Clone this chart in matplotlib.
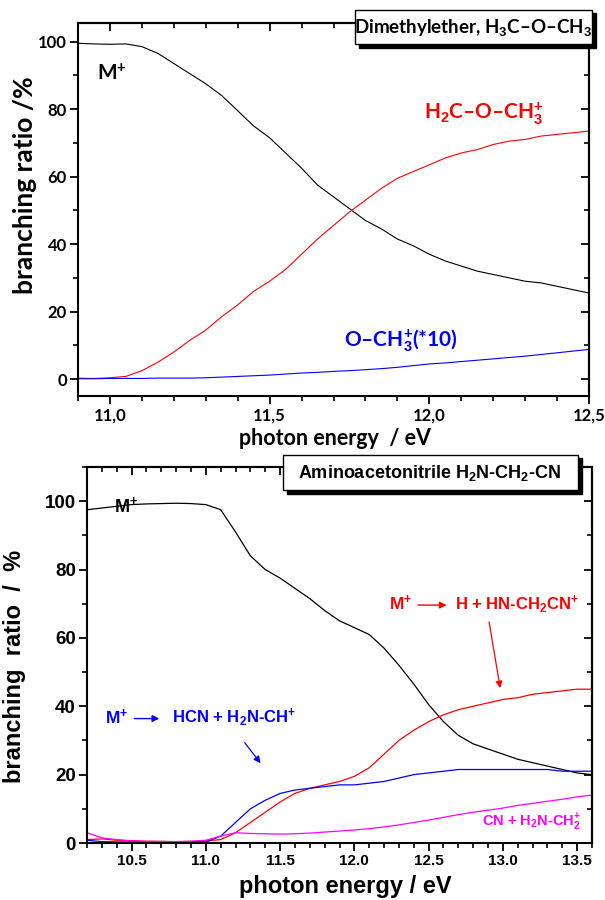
import matplotlib
matplotlib.use("Agg")
import matplotlib.pyplot as plt
from matplotlib.ticker import MultipleLocator, FuncFormatter
from matplotlib.patches import Rectangle

plt.rcParams['mathtext.fontset'] = 'custom'
plt.rcParams['mathtext.rm'] = 'Liberation Sans:bold'
plt.rcParams['mathtext.bf'] = 'Liberation Sans:bold'
plt.rcParams['mathtext.it'] = 'Liberation Sans:bold'
plt.rcParams['mathtext.sf'] = 'Liberation Sans:bold'

# ---------------- data: Dimethylether (top) ----------------
e_top = [10.90, 10.95, 11.00, 11.05, 11.10, 11.15, 11.20, 11.25, 11.30, 11.35, 11.40,
         11.45, 11.50, 11.55, 11.60, 11.65, 11.70, 11.75, 11.80, 11.85, 11.90, 11.95,
         12.00, 12.05, 12.10, 12.15, 12.20, 12.25, 12.30, 12.35, 12.40, 12.45, 12.50]
dme_parent = [99.5, 99.3, 99.2, 99.3, 98.5, 96.5, 93.5, 90.5, 87.5, 84.0, 79.5,
              75.0, 71.5, 67.0, 62.5, 57.5, 54.0, 50.5, 47.0, 44.5, 41.5, 39.5,
              37.0, 35.0, 33.5, 32.0, 31.0, 30.0, 29.0, 28.5, 27.5, 26.5, 25.5]
dme_hloss = [0.3, 0.2, 0.4, 0.8, 2.5, 5.0, 8.0, 11.5, 14.5, 18.5, 22.0,
             26.0, 29.0, 32.5, 37.0, 41.5, 45.5, 49.5, 53.0, 56.5, 59.5, 61.5,
             63.5, 65.5, 67.0, 68.0, 69.5, 70.5, 71.0, 72.0, 72.5, 73.0, 73.5]
dme_och3 = [0.1, 0.1, 0.2, 0.2, 0.2, 0.3, 0.3, 0.3, 0.4, 0.6, 0.8,
            1.0, 1.2, 1.5, 1.8, 2.0, 2.3, 2.5, 2.8, 3.1, 3.5, 4.0,
            4.5, 4.8, 5.2, 5.6, 6.0, 6.4, 6.8, 7.3, 7.8, 8.3, 8.8]

# ---------------- data: Aminoacetonitrile (bottom) ----------------
e_bot = [10.2, 10.3, 10.4, 10.5, 10.6, 10.7, 10.8, 10.9, 11.0, 11.1, 11.2, 11.3,
         11.4, 11.5, 11.6, 11.7, 11.8, 11.9, 12.0, 12.1, 12.2, 12.3, 12.4, 12.5,
         12.6, 12.7, 12.8, 12.9, 13.0, 13.1, 13.2, 13.3, 13.4, 13.5, 13.6]
aan_parent = [97.5, 98.0, 98.5, 99.0, 99.2, 99.3, 99.4, 99.3, 99.0, 97.5, 91.0, 84.0,
              80.0, 77.5, 74.5, 71.5, 68.0, 65.0, 63.0, 61.0, 57.0, 52.0, 46.5, 40.5,
              35.5, 31.5, 29.0, 27.5, 26.0, 24.5, 23.5, 22.5, 21.5, 20.5, 20.0]
aan_hloss = [1.0, 1.2, 0.8, 0.7, 0.5, 0.5, 0.4, 0.5, 0.6, 1.0, 3.0, 6.0,
             9.0, 12.0, 14.5, 16.0, 17.0, 18.0, 19.5, 22.0, 26.0, 30.0, 33.0, 35.5,
             37.5, 39.0, 40.0, 41.0, 42.0, 42.5, 43.5, 44.0, 44.5, 45.0, 45.0]
aan_hcnloss = [0.8, 0.4, 0.3, 0.3, 0.3, 0.3, 0.3, 0.3, 0.3, 2.0, 6.0, 10.0,
               12.5, 14.5, 15.5, 16.0, 16.5, 17.0, 17.0, 17.5, 18.0, 19.0, 20.0, 20.5,
               21.0, 21.5, 21.5, 21.5, 21.5, 21.5, 21.5, 21.5, 21.0, 21.0, 21.0]
aan_cnloss = [3.0, 1.5, 1.0, 0.6, 0.5, 0.4, 0.4, 0.5, 0.8, 2.0, 3.0, 2.8,
              2.7, 2.6, 2.7, 2.9, 3.2, 3.5, 3.8, 4.2, 4.7, 5.3, 6.0, 6.7,
              7.5, 8.3, 9.0, 9.6, 10.2, 11.0, 11.6, 12.2, 12.8, 13.5, 14.0]

W, H = 605, 900
fig = plt.figure(figsize=(W / 100, H / 100), dpi=100)

TOPF = ['Lato', 'DejaVu Sans']
BOTF = ['Liberation Sans', 'DejaVu Sans']


def ax_rect(l, t, r, b):
    return [l / W, 1 - b / H, (r - l) / W, (b - t) / H]


def style_axes(ax, xmaj, xmin, ymaj, ymin, font, xsize, ysize, fmt=None):
    for s in ax.spines.values():
        s.set_linewidth(1.5)
    ax.xaxis.set_major_locator(MultipleLocator(xmaj))
    ax.xaxis.set_minor_locator(MultipleLocator(xmin))
    ax.yaxis.set_major_locator(MultipleLocator(ymaj))
    ax.yaxis.set_minor_locator(MultipleLocator(ymin))
    ax.tick_params(which='major', direction='out', length=6, width=1.3,
                   top=False, right=False, pad=2)
    ax.tick_params(which='minor', direction='out', length=3.5, width=1.2,
                   top=False, right=False)
    ax.tick_params(axis='x', labelsize=xsize)
    ax.tick_params(axis='y', labelsize=ysize)
    if fmt is not None:
        ax.xaxis.set_major_formatter(fmt)
    for lab in ax.get_xticklabels() + ax.get_yticklabels():
        lab.set_family(font)
        lab.set_fontweight('bold')
    sx = ax.secondary_xaxis('top')
    sx.xaxis.set_major_locator(MultipleLocator(xmaj))
    sx.xaxis.set_minor_locator(MultipleLocator(xmin))
    sx.tick_params(which='major', direction='in', length=6, width=1.3, labeltop=False)
    sx.tick_params(which='minor', direction='in', length=3.5, width=1.2)
    sx.spines['top'].set_linewidth(1.5)
    sy = ax.secondary_yaxis('right')
    sy.yaxis.set_major_locator(MultipleLocator(ymaj))
    sy.yaxis.set_minor_locator(MultipleLocator(ymin))
    sy.tick_params(which='major', direction='in', length=6, width=1.3, labelright=False)
    sy.tick_params(which='minor', direction='in', length=3.5, width=1.2)
    sy.spines['right'].set_linewidth(1.5)


# ---------------- top panel ----------------
ax1 = fig.add_axes(ax_rect(78, 23, 589, 396))
ax1.plot(e_top, dme_parent, color='black', lw=0.8)
ax1.plot(e_top, dme_hloss, color='red', lw=0.8)
ax1.plot(e_top, dme_och3, color='blue', lw=0.8)
ax1.set_xlim(10.9, 12.5)
ax1.set_ylim(-5, 105.5)
comma = FuncFormatter(lambda v, p: f"{v:.1f}".replace('.', ','))
style_axes(ax1, 0.5, 0.1, 20, 10, TOPF, 12, 12, comma)
ax1.set_xlabel('photon energy  / eV', family=TOPF, fontweight='bold', fontsize=15.5)
ax1.xaxis.set_label_coords(0.503, -0.085)
ax1.set_ylabel('branching ratio /%', family=TOPF, fontweight='bold', fontsize=19)
ax1.yaxis.set_label_coords(-0.08, 0.565)

ax1.text(11.007, 90.5, r'M$^{+}$', family=TOPF, fontweight='bold', fontsize=15,
         ha='center', va='center', color='black')
ax1.text(12.17, 78.7, r'H$_{2}$C–O–CH$_{3}^{+}$', family=TOPF,
         fontweight='bold', fontsize=15, ha='center', va='center', color='red')
ax1.text(11.91, 11.5, r'O–CH$_{3}^{+}$(*10)', family=TOPF,
         fontweight='bold', fontsize=15, ha='center', va='center', color='blue')

# title box top
fig.patches.append(Rectangle((359 / W, 1 - 48 / H), 237 / W, 35 / H,
                             transform=fig.transFigure, facecolor='black',
                             edgecolor='black', zorder=5))
fig.patches.append(Rectangle((355 / W, 1 - 44 / H), 237 / W, 34 / H,
                             transform=fig.transFigure, facecolor='white',
                             edgecolor='black', lw=1.0, zorder=6))
fig.text(473 / W, 1 - 27 / H, r'Dimethylether, H$_{3}$C–O–CH$_{3}$',
         family=TOPF, fontweight='bold', fontsize=13.5, ha='center', va='center', zorder=7)

# ---------------- bottom panel ----------------
ax2 = fig.add_axes(ax_rect(87, 467, 592, 843))
ax2.plot(e_bot, aan_parent, color='black', lw=0.9)
ax2.plot(e_bot, aan_hloss, color='red', lw=0.9)
ax2.plot(e_bot, aan_hcnloss, color='blue', lw=0.9)
ax2.plot(e_bot, aan_cnloss, color='magenta', lw=0.9)
ax2.set_xlim(10.2, 13.6)
ax2.set_ylim(0, 110)
style_axes(ax2, 0.5, 0.1, 20, 10, BOTF, 11, 13.5)
ax2.set_xlabel('photon energy / eV', family=BOTF, fontweight='bold', fontsize=17)
ax2.xaxis.set_label_coords(0.511, -0.085)
ax2.set_ylabel('branching  ratio  /  %', family=BOTF, fontweight='bold', fontsize=17)
ax2.yaxis.set_label_coords(-0.12, 0.47)

ax2.text(10.46, 98.5, r'M$^{+}$', family=BOTF, fontweight='bold', fontsize=13,
         ha='center', va='center', color='black')
# red: M+ -> H + HN-CH2CN+
ax2.text(12.31, 70, r'M$^{+}$', family=BOTF, fontweight='bold', fontsize=12.5,
         ha='center', va='center', color='red')
ax2.annotate('', xy=(12.64, 69.6), xytext=(12.41, 69.6),
             arrowprops=dict(arrowstyle='-|>', color='red', lw=1.0, mutation_scale=10))
ax2.text(12.68, 70, r'H + HN-CH$_{2}$CN$^{+}$', family=BOTF, fontweight='bold',
         fontsize=12, ha='left', va='center', color='red')
ax2.annotate('', xy=(12.985, 44.5), xytext=(12.904, 65.5),
             arrowprops=dict(arrowstyle='-|>', color='red', lw=0.9, mutation_scale=10))

# blue: M+ -> HCN + H2N-CH+
ax2.text(10.40, 36.8, r'M$^{+}$', family=BOTF, fontweight='bold', fontsize=12.5,
         ha='center', va='center', color='blue')
ax2.annotate('', xy=(10.705, 36.4), xytext=(10.50, 36.4),
             arrowprops=dict(arrowstyle='-|>', color='blue', lw=1.0, mutation_scale=10))
ax2.text(10.77, 36.8, r'HCN + H$_{2}$N-CH$^{+}$', family=BOTF, fontweight='bold',
         fontsize=12, ha='left', va='center', color='blue')
ax2.annotate('', xy=(11.38, 22.7), xytext=(11.25, 30.0),
             arrowprops=dict(arrowstyle='-|>', color='blue', lw=0.9, mutation_scale=10))

ax2.text(13.19, 6.0, r'CN + H$_{2}$N-CH$_{2}^{+}$', family=BOTF,
         fontweight='bold', fontsize=10.5, ha='center', va='center', color='magenta')

# title box bottom
fig.patches.append(Rectangle((287 / W, 1 - 494 / H), 295 / W, 36 / H,
                             transform=fig.transFigure, facecolor='black',
                             edgecolor='black', zorder=5))
fig.patches.append(Rectangle((283 / W, 1 - 490 / H), 295 / W, 35 / H,
                             transform=fig.transFigure, facecolor='white',
                             edgecolor='black', lw=1.0, zorder=6))
fig.text(430 / W, 1 - 473 / H, r'Aminoacetonitrile H$_{2}$N-CH$_{2}$-CN',
         family=BOTF, fontweight='bold', fontsize=13, ha='center', va='center', zorder=7)

fig.savefig('out.png', dpi=100)
